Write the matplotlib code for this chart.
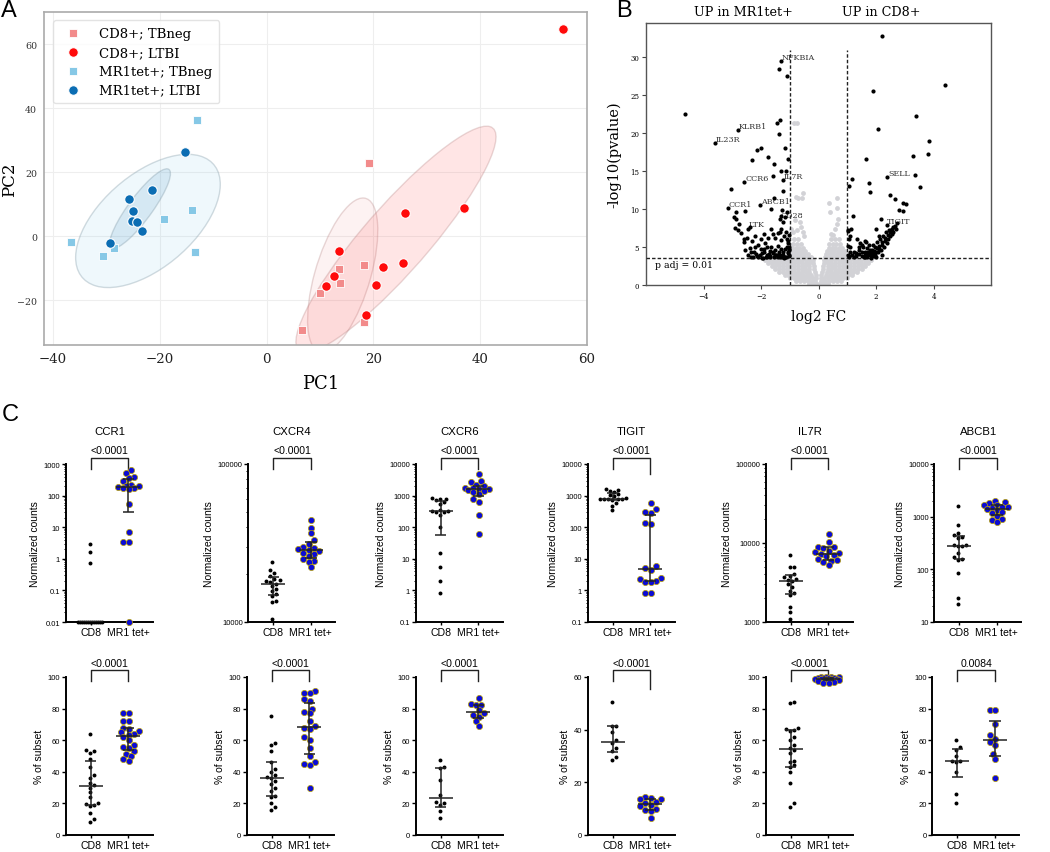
import numpy as np
import matplotlib
matplotlib.use("Agg")
import matplotlib.pyplot as plt
from matplotlib.patches import Ellipse
from matplotlib.ticker import LogLocator, NullFormatter, FuncFormatter

# ---------------- panel A: PCA ----------------
CD8_TBNEG_PC1 = [19.2, 13.5, 13.8, 10.0, 18.2, 18.3, 6.7]
CD8_TBNEG_PC2 = [22.7, -10.4, -14.7, -17.9, -8.9, -26.8, -29.4]
CD8_LTBI_PC1 = [13.6, 12.6, 11.2, 25.9, 36.9, 21.8, 25.6, 20.5, 18.6, 55.5]
CD8_LTBI_PC2 = [-4.6, -12.6, -15.7, 7.2, 8.8, -9.5, -8.3, -15.4, -24.7, 64.7]
MR1_TBNEG_PC1 = [-13.1, -36.7, -30.7, -28.6, -19.2, -13.9, -13.4]
MR1_TBNEG_PC2 = [36.2, -1.8, -6.2, -3.6, 5.2, 8.2, -4.8]
MR1_LTBI_PC1 = [-15.3, -21.4, -25.7, -25.0, -25.3, -24.3, -23.4, -29.3]
MR1_LTBI_PC2 = [26.2, 14.5, 11.7, 7.8, 4.8, 4.3, 1.5, -2.1]

# ---------------- panel B: volcano ----------------
SIG_FC = [2.22, -1.30, -1.36, -1.09, 1.89, 4.40, -4.63, 3.40, -1.35, -1.45, -2.80, 2.07,
          -1.36, -3.59, 3.86, -2.00, -2.14, -1.16, 3.82, 3.28, -1.74, -1.05, -2.30, 1.64,
          -1.56, -1.29, -1.14, 2.39, 3.34, -1.57, -1.24, 1.18, -2.58, 1.74, 1.07, 3.54,
          -3.05, -1.24, 1.79, 2.49, 2.66, -1.54, 2.95, 3.05, -2.02, -3.16, -2.86, -2.57,
          -1.65, -1.27, -1.11, 2.80, 2.95, 1.21, -2.94, -2.86, -1.29, -1.17, -1.35, -1.23,
          -2.77, 2.16, 2.74, -2.39, -2.45, -1.64, -1.29, 1.99, 2.37, 2.54, 1.13,
          -2.7, -2.5, -2.3, -2.1, -2.0, -1.9, -1.8, -1.7, -1.6, -1.5, -1.4, -1.3, -1.2,
          -1.1, -1.05, -1.02, -2.2, -2.6, -2.4, -2.25, -2.05, -1.85, -1.75, -1.65, -1.55,
          -1.45, -1.35, -1.25, -1.15, -1.08, -1.12, -1.4, -1.6, -2.8, -2.0, -1.9, -1.3,
          -1.05, -1.2, -1.7, -2.35, -2.15, -1.95, -1.78, -1.48, -1.33, -1.03,
          -2.55, -2.45, -2.35, -2.28, -2.18, -2.12, -1.98, -1.92, -1.88, -1.82, -1.72,
          -1.68, -1.58, -1.52, -1.42, -1.38, -1.28, -1.22, -1.18, -1.13, -1.06, -1.04,
          -1.03, -1.06, -1.04, -1.02, -1.8, -2.2, -2.6, -2.9, -1.5, -1.35,
          1.05, 1.1, 1.08, 1.1, 1.3, 1.4, 1.5, 1.55, 1.6, 1.7, 1.75, 1.8, 1.85, 1.9, 1.95,
          2.0, 2.05, 2.1, 2.15, 2.2, 2.25, 2.3, 2.35, 2.4, 2.45, 2.5, 2.55, 2.6, 1.65, 1.9,
          2.1, 1.45, 1.25, 1.35, 1.7, 2.0, 2.2, 1.62, 1.82, 1.04,
          1.02, 1.06, 1.15, 1.22, 1.32, 1.42, 1.52, 1.58, 1.62, 1.68, 1.72, 1.78, 1.82,
          1.88, 1.92, 1.98, 2.02, 2.08, 2.12, 2.18, 2.22, 2.28, 2.32, 2.38, 2.42, 2.48,
          2.52, 2.58, 2.65, 2.7, 1.03, 1.05, 1.03, 1.5, 1.4, 1.6]
SIG_LOGP = [32.8, 29.5, 28.4, 27.5, 25.6, 26.3, 22.5, 22.2, 21.7, 21.3, 20.4, 20.6,
            19.9, 18.7, 18.9, 18.05, 17.8, 18.0, 17.3, 17.0, 16.8, 16.6, 16.5, 16.6,
            15.9, 15.0, 15.0, 14.2, 14.5, 14.4, 13.8, 13.9, 13.5, 13.4, 13.0, 12.9,
            12.6, 12.4, 12.3, 11.8, 11.3, 11.5, 10.8, 10.7, 10.5, 10.1, 9.6, 9.8,
            10.0, 9.9, 9.6, 9.9, 9.7, 9.1, 8.9, 8.7, 9.1, 8.9, 8.7, 8.3,
            8.0, 8.7, 8.2, 7.7, 7.4, 7.4, 7.4, 7.4, 7.9, 7.4, 7.4,
            6.8, 6.2, 5.8, 5.3, 4.8, 4.4, 4.0, 3.8, 4.2, 4.6, 5.2, 5.9, 6.5,
            5.0, 4.2, 3.8, 6.5, 5.6, 4.9, 4.3, 3.9, 5.5, 6.2, 5.0, 3.7,
            4.0, 3.9, 4.4, 3.7, 6.0, 7.0, 6.8, 6.7, 7.2, 6.0, 6.7, 4.8,
            5.5, 3.6, 4.5, 3.7, 3.8, 3.6, 3.7, 3.9, 3.7, 4.6,
            4.6, 4.0, 4.4, 3.7, 4.1, 3.65, 4.2, 3.6, 4.7, 3.7, 4.1,
            3.65, 4.4, 3.9, 3.65, 4.3, 3.7, 4.0, 4.7, 3.65, 4.4, 3.9,
            5.0, 5.8, 6.6, 4.7, 5.0, 5.0, 6.0, 7.5, 6.2, 7.0,
            3.8, 4.3, 5.0, 6.5, 4.2, 4.6, 3.8, 5.0, 4.4, 4.0, 5.3, 3.9, 4.6, 4.2, 5.0,
            4.4, 5.6, 4.8, 6.0, 5.3, 6.5, 5.8, 7.0, 6.6, 7.3, 7.0, 6.7, 7.6, 5.6, 5.3,
            6.4, 5.5, 3.7, 6.0, 4.9, 3.7, 4.0, 3.7, 3.6, 7.2,
            4.0, 3.7, 3.9, 4.4, 3.8, 4.1, 4.4, 3.7, 4.0, 3.7, 4.3, 4.6, 4.2,
            3.8, 4.5, 4.0, 4.9, 4.3, 5.1, 4.6, 5.6, 5.0, 6.2, 5.5, 6.0, 6.4,
            7.2, 7.0, 7.8, 7.4, 5.2, 6.0, 7.1, 5.3, 5.0, 5.8]

NS_ROW_LOGP = [0.15, 0.5, 0.9, 1.3, 1.7, 2.1, 2.5, 2.9, 3.3, 3.7, 4.1, 4.5, 4.9, 5.4, 6.0]
NS_ROW_FC = [
    [-0.32, -0.22, -0.12, -0.04, 0.05, 0.14, 0.24, 0.33],
    [-0.78, -0.64, -0.5, -0.37, -0.24, -0.12, 0.1, 0.22, 0.36, 0.5, 0.64, 0.79],
    [-0.98, -0.85, -0.72, -0.59, -0.46, -0.33, -0.2, -0.08, 0.08, 0.2, 0.33, 0.46, 0.59,
     0.72, 0.85, 0.99],
    [-1.18, -1.05, -0.92, -0.79, -0.66, -0.53, -0.4, -0.27, -0.1, 0.1, 0.26, 0.39, 0.52,
     0.65, 0.78, 0.91, 1.04, 1.17],
    [-1.36, -1.23, -1.1, -0.97, -0.84, -0.71, -0.58, -0.45, -0.32, -0.12, 0.12, 0.3, 0.43,
     0.56, 0.69, 0.82, 0.95, 1.08, 1.21, 1.35],
    [-1.5, -1.37, -1.24, -1.11, -0.98, -0.85, -0.72, -0.59, -0.46, -0.33, -0.14, 0.14,
     0.32, 0.45, 0.58, 0.71, 0.84, 0.97, 1.1, 1.23, 1.36, 1.5],
    [-1.63, -1.5, -1.37, -1.24, -1.11, -0.98, -0.85, -0.72, -0.59, -0.46, -0.33, -0.16,
     0.16, 0.33, 0.46, 0.59, 0.72, 0.85, 0.98, 1.11, 1.24, 1.37, 1.5, 1.63],
    [-1.75, -1.62, -1.49, -1.36, -1.23, -1.1, -0.97, -0.84, -0.71, -0.58, -0.45, -0.32,
     -0.18, 0.18, 0.32, 0.45, 0.58, 0.71, 0.84, 0.97, 1.1, 1.23, 1.36, 1.49, 1.62, 1.72],
    [-1.86, -1.73, -1.6, -1.47, -1.34, -1.21, -1.08, -0.95, -0.82, -0.69, -0.56, -0.43,
     -0.3, -0.2, 0.2, 0.31, 0.44, 0.57, 0.7, 0.83, 0.96, 1.09, 1.22, 1.35, 1.48, 1.61,
     1.74, 1.84],
    [-0.98, -0.86, -0.74, -0.62, -0.5, -0.38, -0.27, 0.24, 0.36, 0.48, 0.6, 0.72, 0.84, 0.96],
    [-0.97, -0.85, -0.73, -0.61, -0.49, -0.37, 0.27, 0.39, 0.51, 0.63, 0.75, 0.87],
    [-0.95, -0.83, -0.71, -0.59, -0.47, 0.31, 0.43, 0.55, 0.67, 0.79, 0.92],
    [-0.93, -0.8, -0.67, -0.54, 0.35, 0.47, 0.59, 0.71, 0.83],
    [-0.9, -0.76, -0.62, 0.38, 0.5, 0.62, 0.74],
    [-0.86, -0.7, 0.42, 0.56, 0.7],
]
NS_FC_HI = [-0.75, -0.7, -0.8, -0.85, -0.75, -0.53, -0.59, -0.82, -0.94, -0.5, -0.55,
            -0.6, -0.65, -0.9, 0.36, 0.63, 0.65, 0.4, 0.69, 0.63, 0.57, 0.45, 0.5]
NS_LOGP_HI = [7.2, 11.5, 11.6, 21.3, 21.3, 12.1, 11.5, 8.5, 7.4, 6.5, 7.0,
              7.6, 8.3, 7.0, 10.8, 11.4, 10.2, 9.6, 8.7, 8.0, 7.4, 6.7, 6.6]

GENE_LABELS = ["NFKBIA", "KLRB1", "IL23R", "CCR6", "IL7R", "ABCB1", "CCR1", "CD28",
               "LTK", "SELL", "TIGIT"]
GENE_FC = [-1.30, -2.80, -3.59, -2.58, -1.24, -2.02, -3.16, -1.35, -2.45, 2.39, 2.37]
GENE_LOGP = [29.5, 20.4, 18.7, 13.5, 13.8, 10.5, 10.1, 8.7, 7.4, 14.2, 7.9]

# ---------------- panel C: dot plots ----------------
GENES = ["CCR1", "CXCR4", "CXCR6", "TIGIT", "IL7R", "ABCB1"]
GROUPS = ["CD8", "MR1 tet+"]

CCR1_CD8_COUNTS = [0.01] * 13 + [2.97, 1.63, 0.73]
CCR1_MR1_COUNTS = [650, 520, 380, 370, 290, 210, 200, 195, 185, 180, 175, 160, 55, 7.3,
                   3.3, 3.3, 0.01]
CXCR4_CD8_COUNTS = [24000, 21400, 20500, 19600, 18700, 18400, 18100, 18000, 17500, 17000,
                    16200, 15800, 15000, 14600, 13600, 13300, 10500]
CXCR4_MR1_COUNTS = [44000, 39500, 36400, 33000, 31000, 30000, 29500, 29000, 28500, 28000,
                    27500, 27000, 26000, 25000, 24500, 24000, 22300]
CXCR6_CD8_COUNTS = [850, 800, 780, 700, 620, 550, 350, 330, 320, 310, 300, 250, 100, 15,
                    5.7, 2, 0.8]
CXCR6_MR1_COUNTS = [5000, 2900, 2600, 2100, 2000, 1800, 1700, 1650, 1600, 1500, 1400, 1300,
                    1100, 800, 650, 250, 60]
TIGIT_CD8_COUNTS = [1650, 1550, 1450, 1300, 1150, 1050, 950, 850, 800, 800, 780, 780, 760,
                    720, 600, 480, 350]
TIGIT_MR1_COUNTS = [600, 380, 300, 280, 140, 130, 6, 5, 4.5, 2.5, 2.3, 2, 1.9, 1.8, 0.85,
                    0.85]
IL7R_CD8_COUNTS = [7100, 5000, 4900, 4000, 3800, 3700, 3500, 3400, 3300, 3000, 2800, 2500,
                   2300, 2200, 1550, 1330, 1080]
IL7R_MR1_COUNTS = [13000, 10200, 9000, 8800, 8700, 8000, 7600, 7400, 7200, 7000, 6800, 6200,
                   6100, 6000, 5800, 5200]
ABCB1_CD8_COUNTS = [1575, 700, 500, 450, 410, 400, 290, 290, 280, 280, 200, 170, 160, 150,
                    86, 28, 22]
ABCB1_MR1_COUNTS = [2000, 1900, 1800, 1700, 1650, 1550, 1500, 1450, 1400, 1350, 1250, 1150,
                    1050, 900, 850, 800]

CCR1_CD8_PCT = [64, 54, 53, 52, 48, 43, 38, 36, 33, 31.5, 30, 27, 24, 20, 19.5, 19, 18.5,
                14, 10, 8.5]
CCR1_MR1_PCT = [77, 77, 72, 72, 68, 67, 66, 65, 64, 63.5, 62, 60, 57, 56, 55, 53, 51, 50,
                48, 47]
CXCR4_CD8_PCT = [75.5, 58, 57, 53, 46, 42, 40, 38, 36.5, 36, 34, 32, 30, 28, 25, 24, 20, 18,
                 16]
CXCR4_MR1_PCT = [91, 90, 90, 86, 85, 80, 78, 77, 72, 69, 68, 67, 62, 60, 55, 50, 46, 45,
                 44, 30]
CXCR6_CD8_PCT = [47.5, 43, 42.5, 35, 25.5, 21, 20, 19, 15, 11]
CXCR6_MR1_PCT = [87, 83, 82, 82, 79, 77, 76, 75, 72, 69]
TIGIT_CD8_PCT = [50.5, 41.5, 41.5, 39, 36, 35, 33, 32, 29.5, 28.5]
TIGIT_MR1_PCT = [14.5, 14, 13.5, 13.5, 12.5, 12, 11.5, 11, 10, 9.5, 9, 6.5]
IL7R_CD8_PCT = [84, 83.5, 68, 67, 66.5, 66, 62, 60, 57, 55, 54, 52, 47, 46, 44, 43, 40, 33,
                20, 18]
IL7R_MR1_PCT = [100, 100, 99.8, 99.7, 99.6, 99.5, 99.4, 99.3, 99, 99, 98.8, 98.5, 98.2, 98,
                97.5, 97, 96.5, 96]
ABCB1_CD8_PCT = [60, 56, 54, 50, 47, 47, 46, 40, 26, 20]
ABCB1_MR1_PCT = [79, 79, 70, 63, 61, 59, 57, 51, 48, 36]

COUNT_PVALS = ["<0.0001"] * 6
PCT_PVALS = ["<0.0001", "<0.0001", "<0.0001", "<0.0001", "<0.0001", "0.0084"]

COUNT_YLIM = [(0.01, 1000), (1e4, 1e5), (0.1, 1e4), (0.1, 1e4), (1e3, 1e5), (10, 1e4)]
PCT_YMAX = [100, 100, 100, 60, 100, 100]

# ------------------------------------------------------------
W, H = 1050, 853
fig = plt.figure(figsize=(W / 100, H / 100), dpi=100)
SERIF = "DejaVu Serif"
SANS = "Liberation Sans"


def px_axes(left, top, right, bottom):
    return fig.add_axes([left / W, 1 - bottom / H, (right - left) / W, (bottom - top) / H])


def conf_ellipse(ax, x, y, n_std, **kw):
    cov = np.cov(x, y)
    vals, vecs = np.linalg.eigh(cov)
    order = vals.argsort()[::-1]
    vals, vecs = vals[order], vecs[:, order]
    angle = np.degrees(np.arctan2(vecs[1, 0], vecs[0, 0]))
    w, h = 2 * n_std * np.sqrt(vals)
    ax.add_patch(Ellipse((np.mean(x), np.mean(y)), w, h, angle=angle, **kw))


# ---------------- A ----------------
axA = px_axes(44, 13, 587, 346)
axA.set_xlim(-41.7, 60)
axA.set_ylim(-34, 70)
axA.grid(color="#eeeeee", lw=0.8)
axA.set_axisbelow(True)
for s in axA.spines.values():
    s.set_color("#aaaaaa")
    s.set_linewidth(1.2)

conf_ellipse(axA, MR1_TBNEG_PC1, MR1_TBNEG_PC2, 1.4, facecolor=(0.53, 0.81, 0.92, 0.13),
             edgecolor=(0.5, 0.6, 0.65, 0.35), lw=1, zorder=1)
conf_ellipse(axA, MR1_LTBI_PC1, MR1_LTBI_PC2, 1.4, facecolor=(0.12, 0.47, 0.71, 0.12),
             edgecolor=(0.5, 0.6, 0.65, 0.35), lw=1, zorder=1)
conf_ellipse(axA, CD8_TBNEG_PC1, CD8_TBNEG_PC2, 1.4, facecolor=(0.94, 0.5, 0.5, 0.1),
             edgecolor=(0.7, 0.5, 0.5, 0.3), lw=1, zorder=1)
conf_ellipse(axA, CD8_LTBI_PC1, CD8_LTBI_PC2, 1.4, facecolor=(1.0, 0.3, 0.3, 0.14),
             edgecolor=(0.7, 0.5, 0.5, 0.3), lw=1, zorder=1)

axA.scatter(CD8_TBNEG_PC1, CD8_TBNEG_PC2, marker="s", s=34, c="#f28b8b", edgecolors="white",
            lw=0.6, zorder=3, label="CD8+; TBneg", clip_on=False)
axA.scatter(CD8_LTBI_PC1, CD8_LTBI_PC2, marker="o", s=48, c="#ff0a0a", edgecolors="white",
            lw=0.8, zorder=3, label="CD8+; LTBI")
axA.scatter(MR1_TBNEG_PC1, MR1_TBNEG_PC2, marker="s", s=34, c="#86c8e6", edgecolors="white",
            lw=0.6, zorder=3, label="MR1tet+; TBneg")
axA.scatter(MR1_LTBI_PC1, MR1_LTBI_PC2, marker="o", s=48, c="#0b6db3", edgecolors="white",
            lw=0.8, zorder=3, label="MR1tet+; LTBI")

axA.set_xticks([-40, -20, 0, 20, 40, 60])
axA.set_yticks([-20, 0, 20, 40, 60])
axA.tick_params(axis="x", length=0, pad=5, labelsize=9.6, labelcolor="#222222")
axA.tick_params(axis="y", length=0, pad=5, labelsize=6.8, labelcolor="#333333")
for lab in axA.get_xticklabels() + axA.get_yticklabels():
    lab.set_family(SERIF)
axA.set_xlabel("PC1", fontsize=13, family=SERIF)
axA.xaxis.set_label_coords(0.51, -0.088)
axA.set_ylabel("PC2", fontsize=12, family=SERIF)
axA.yaxis.set_label_coords(-0.048, 0.5)
leg = axA.legend(loc="upper left", prop={"family": SERIF, "size": 9.5}, frameon=True,
                 labelspacing=0.45, handletextpad=1.0, borderpad=0.5,
                 bbox_to_anchor=(0.005, 0.995))
leg.get_frame().set_edgecolor("#dddddd")

# ---------------- B ----------------
axB = px_axes(646, 24, 991, 286)
axB.set_xlim(-6, 6)
axB.set_ylim(0, 34.5)
for s in axB.spines.values():
    s.set_color("#555555")
    s.set_linewidth(1)
ns_fc = [x for row in NS_ROW_FC for x in row] + NS_FC_HI
ns_lp = [y for y, row in zip(NS_ROW_LOGP, NS_ROW_FC) for _ in row] + NS_LOGP_HI
axB.scatter(ns_fc, ns_lp, s=12, c="#d2d2d6", lw=0, zorder=2)
axB.scatter(SIG_FC, SIG_LOGP, s=9, c="black", lw=0, zorder=4)
dash = (0, (2.5, 1.5))
axB.axhline(3.5, color="#222222", lw=1, ls=dash, zorder=3)
axB.vlines([-1, 1], 0, 30.9, color="#222222", lw=1, ls=dash, zorder=3)
for g, x, y in zip(GENE_LABELS, GENE_FC, GENE_LOGP):
    axB.annotate(g, (x, y), xytext=(0.5, 0.3), textcoords="offset points", fontsize=5.8,
                 family=SERIF, color="#333333", ha="left", va="bottom", zorder=3)
axB.text(-5.7, 2.7, "p adj = 0.01", fontsize=6.7, family=SERIF, va="center", ha="left")
trB = axB.get_xaxis_transform()
axB.text(-2.6, 1.042, "UP in MR1tet+", transform=trB, ha="center", va="center",
         fontsize=9.2, family=SERIF)
axB.text(2.2, 1.042, "UP in CD8+", transform=trB, ha="center", va="center",
         fontsize=9.2, family=SERIF)
axB.set_xticks([-4, -2, 0, 2, 4])
axB.set_yticks([0, 5, 10, 15, 20, 25, 30])
axB.tick_params(length=3, width=0.8, labelsize=5, color="#444444", pad=2)
for lab in axB.get_xticklabels() + axB.get_yticklabels():
    lab.set_family(SERIF)
axB.set_xlabel("log2 FC", fontsize=10, family=SERIF)
axB.xaxis.set_label_coords(0.5, -0.092)
axB.set_ylabel("-log10(pvalue)", fontsize=10.5, family=SERIF)
axB.yaxis.set_label_coords(-0.072, 0.5)

# ---------------- C ----------------
ROW1_LEFT = [65.7, 248.3, 415.7, 587.7, 765.7, 934.3]
ROW2_LEFT = [65.7, 246.7, 415.7, 587.7, 765.7, 932.3]

count_data = [(CCR1_CD8_COUNTS, CCR1_MR1_COUNTS), (CXCR4_CD8_COUNTS, CXCR4_MR1_COUNTS),
              (CXCR6_CD8_COUNTS, CXCR6_MR1_COUNTS), (TIGIT_CD8_COUNTS, TIGIT_MR1_COUNTS),
              (IL7R_CD8_COUNTS, IL7R_MR1_COUNTS), (ABCB1_CD8_COUNTS, ABCB1_MR1_COUNTS)]
pct_data = [(CCR1_CD8_PCT, CCR1_MR1_PCT), (CXCR4_CD8_PCT, CXCR4_MR1_PCT),
            (CXCR6_CD8_PCT, CXCR6_MR1_PCT), (TIGIT_CD8_PCT, TIGIT_MR1_PCT),
            (IL7R_CD8_PCT, IL7R_MR1_PCT), (ABCB1_CD8_PCT, ABCB1_MR1_PCT)]


def swarm_x(ax, x0, yvals, d_px, max_px):
    yvals = np.asarray(yvals, float)
    disp = ax.transData.transform(np.column_stack([np.full(len(yvals), x0), yvals]))
    ys = disp[:, 1]
    cands = sorted(np.arange(-max_px, max_px + 0.01, d_px / 2.0), key=lambda c: (abs(c), c))
    offs = np.zeros(len(ys))
    placed = []
    for i in np.argsort(ys):
        best, best_d = 0.0, -1.0
        for c in cands:
            dmin = min([np.hypot(c - ox, ys[i] - oy) for ox, oy in placed], default=1e9)
            if dmin >= d_px:
                best = c
                break
            if dmin > best_d:
                best_d, best = dmin, c
        offs[i] = best
        placed.append((best, ys[i]))
    back = ax.transData.inverted().transform(np.column_stack([disp[:, 0] + offs, ys]))
    return back[:, 0]


def dot_panel(ax, cd8, mr1, pval, ylabel, bracket_y, right_leg, title=None):
    ax.set_xlim(-0.67, 1.65)
    for side in ["top", "right"]:
        ax.spines[side].set_visible(False)
    for side in ["left", "bottom"]:
        ax.spines[side].set_linewidth(1.4)
    ax.set_xticks([0, 1])
    ax.set_xticklabels(GROUPS, family=SANS, fontsize=7.6)
    ax.tick_params(axis="x", length=2, width=1, pad=1.5)
    ax.tick_params(axis="y", which="major", length=3, width=1, labelsize=5.5, pad=1)
    ax.tick_params(axis="y", which="minor", length=1.5, width=0.7)
    for lab in ax.get_yticklabels():
        lab.set_family(SANS)
    ax.set_ylabel(ylabel, family=SANS, fontsize=7.5, labelpad=2.5)

    for x0, vals, style in [(0, cd8, dict(s=8, c="black", lw=0)),
                            (1, mr1, dict(s=20, c="#0c0cd4", edgecolors="#b8a000",
                                          lw=0.5))]:
        d = 4.0 if x0 == 0 else 5.3
        xs = swarm_x(ax, x0, vals, d, 13)
        ax.scatter(xs, vals, zorder=3, clip_on=False, **style)
        q1, med, q3 = np.percentile(vals, [25, 50, 75], method="weibull")
        ax.hlines(med, x0 - 0.32, x0 + 0.32, color="#222222", lw=1.1, zorder=4)
        ax.vlines(x0, q1, q3, color="#222222", lw=1.1, zorder=4)
        ax.hlines([q1, q3], x0 - 0.15, x0 + 0.15, color="#222222", lw=1.1, zorder=4)

    tr = ax.get_xaxis_transform()
    ax.plot([0, 0, 1, 1], [bracket_y[1], bracket_y[0], bracket_y[0], right_leg],
            transform=tr, color="#222222", lw=1, clip_on=False)
    ax.text(0.5, bracket_y[2], pval, transform=tr, ha="center", va="center",
            family=SANS, fontsize=7.6)
    if title:
        ax.text(0.5, 1.21, title, transform=tr, ha="center", va="center", family=SANS,
                fontsize=8.2)


fmt = FuncFormatter(lambda v, p: "%g" % v)
for i, gene in enumerate(GENES):
    ax = px_axes(ROW1_LEFT[i], 465, ROW1_LEFT[i] + 87, 623)
    ax.set_yscale("log")
    ax.set_ylim(*COUNT_YLIM[i])
    ax.yaxis.set_major_locator(LogLocator(base=10, numticks=12))
    ax.yaxis.set_minor_locator(LogLocator(base=10, subs=np.arange(2, 10), numticks=12))
    ax.yaxis.set_major_formatter(fmt)
    ax.yaxis.set_minor_formatter(NullFormatter())
    right_leg = 0.935 if gene == "TIGIT" else 0.968
    dot_panel(ax, count_data[i][0], count_data[i][1], COUNT_PVALS[i], "Normalized counts",
              (1.036, 0.968, 1.09), right_leg, title=gene)

    ax2 = px_axes(ROW2_LEFT[i], 678, ROW2_LEFT[i] + 87, 836)
    ax2.set_ylim(0, PCT_YMAX[i])
    ax2.set_yticks(np.arange(0, PCT_YMAX[i] + 1, 20))
    right_leg = 0.926 if gene == "TIGIT" else 0.975
    dot_panel(ax2, pct_data[i][0], pct_data[i][1], PCT_PVALS[i], "% of subset",
              (1.042, 0.975, 1.09), right_leg)

fig.text(1 / W, 1 - 0 / H, "A", family=SANS, fontsize=17, va="top", ha="left")
fig.text(616 / W, 1 - 0 / H, "B", family=SANS, fontsize=17, va="top", ha="left")
fig.text(2 / W, 1 - 404 / H, "C", family=SANS, fontsize=17, va="top", ha="left")

fig.savefig("out.png", dpi=100)
